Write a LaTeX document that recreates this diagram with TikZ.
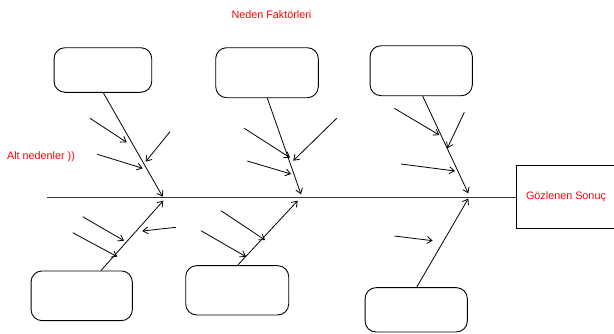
\documentclass[tikz,border=0pt]{standalone}
\usepackage{fontspec}
\setmainfont{Liberation Sans}
\usetikzlibrary{arrows.meta}
\begin{document}
\begin{tikzpicture}[x=1pt,y=-1pt,
  catbox/.style={draw,rounded corners=11pt,inner sep=0pt,line width=0.9pt},
  resbox/.style={draw,inner sep=0pt,line width=0.9pt,text=red,font=\fontsize{10.8}{13}\selectfont},
  lbl/.style={text=red,font=\fontsize{10.8}{13}\selectfont,inner sep=0pt},
  arr/.style={line width=0.8pt,-{Straight Barb[length=5pt,width=7pt]}},
  spine/.style={line width=1pt,draw=black!80}]
\useasboundingbox (0,0) rectangle (614,333);
% category boxes
\node[catbox,minimum width=97.7pt,minimum height=44.6pt] (c1) at (102.9,70) {};
\node[catbox,minimum width=102.6pt,minimum height=50pt] (c2) at (267,72.7) {};
\node[catbox,minimum width=102.3pt,minimum height=50pt] (c3) at (421.2,70.7) {};
\node[catbox,minimum width=101.3pt,minimum height=49.7pt] (c4) at (81.7,295.8) {};
\node[catbox,minimum width=103pt,minimum height=49.3pt] (c5) at (237.2,290.3) {};
\node[catbox,minimum width=102.3pt,minimum height=44.3pt] (c6) at (416.2,309.8) {};
% result
\node[resbox,minimum width=100pt,minimum height=62.6pt] (res) at (566,197) {Gözlenen Sonuç};
% labels
\node[lbl] (title) at (271.5,15) {Neden Faktörleri};
\node[lbl] (alt) at (41,156.7) {Alt nedenler ))};
% spine
\coordinate (sl) at (47.3,197);
\draw[spine] (sl) -- (res.west);
% bone tips
\coordinate (t1) at (162.7,196.7);
\coordinate (t2) at (301,194.3);
\coordinate (t3) at (468.3,193.3);
\coordinate (t4) at (163.3,200.7);
\coordinate (t5) at (297.7,200.7);
\coordinate (t6) at (468.3,198.5);
\draw[arr] ([xshift=0.4pt]c1.south) -- (t1);
\draw[arr] ([xshift=0.3pt]c2.south) -- (t2);
\draw[arr] ([xshift=1.5pt]c3.south) -- (t3);
\draw[arr] ([xshift=19.3pt]c4.north) -- (t4);
\draw[arr] ([xshift=0.5pt]c5.north) -- (t5);
\draw[arr] ([xshift=0.5pt]c6.north) -- (t6);
% sub-cause arrows
\foreach \sx/\sy/\ex/\ey in {
  90/118.3/126.7/142.3, 97.3/154.3/142.7/168.3, 170/131.7/145.7/161.7,
  244.3/128.3/290/157.7, 247.3/161/291/174, 336.7/118.3/293.3/160.7,
  394.3/108.3/439.3/135, 464.3/112.3/447.3/148.3, 401/164/455/171,
  82.7/216.7/124/240.7, 72.7/232.7/117.3/256.7, 176/227.3/142.3/231,
  221/210.7/265/240, 201/230.7/246/256.7,
  394.3/236/432.7/240.7}{
  \coordinate (s) at (\sx,\sy);
  \coordinate (e) at (\ex,\ey);
  \draw[arr] (s) -- (e);
}
\end{tikzpicture}
\end{document}
